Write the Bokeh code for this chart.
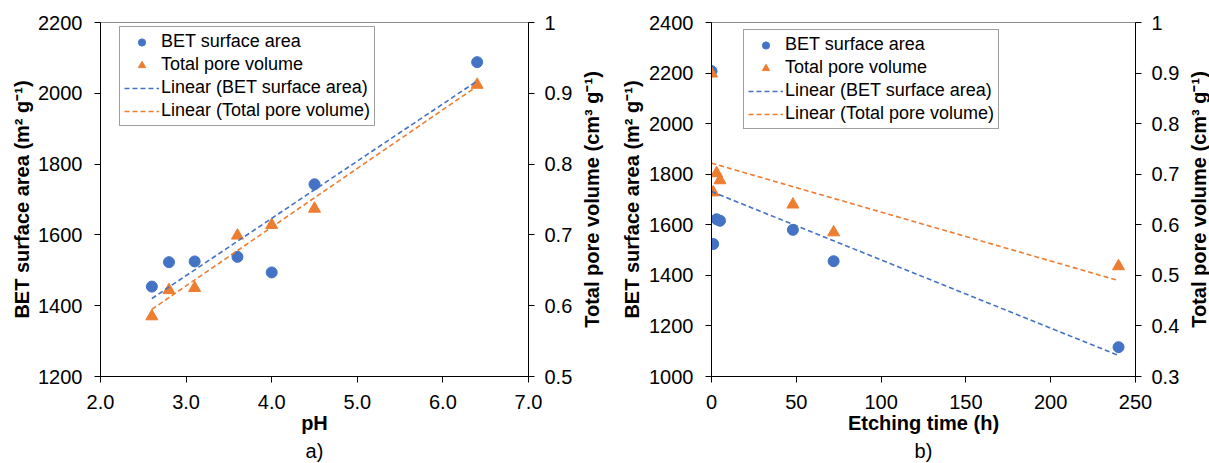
from bokeh.plotting import figure
from bokeh.models import (Range1d, LinearAxis, FixedTicker, PrintfTickFormatter,
                          CustomJSTickFormatter, Legend, LegendItem, Title)
from bokeh.layouts import row
from bokeh.embed import file_html
from bokeh.resources import INLINE
import numpy as np

# ---- data: panel a) ----
ph = [2.6, 2.8, 3.1, 3.6, 4.0, 4.5, 6.4]
bet_ph = [1454, 1523, 1525, 1538, 1494, 1743, 2088]
tpv_ph = [0.585, 0.622, 0.625, 0.699, 0.714, 0.737, 0.912]

# ---- data: panel b) ----
etch_t = [0, 1, 3, 5, 48, 72, 240]
bet_t = [2208, 1524, 1622, 1616, 1580, 1456, 1116]
tpv_t = [0.899, 0.664, 0.702, 0.688, 0.640, 0.585, 0.518]

# ---- ticks ----
ph_ticks = [2.0, 3.0, 4.0, 5.0, 6.0, 7.0]
t_ticks = [0, 50, 100, 150, 200, 250]
bet_ticks_a = [1200, 1400, 1600, 1800, 2000, 2200]
tpv_ticks_a = [0.5, 0.6, 0.7, 0.8, 0.9, 1.0]
bet_ticks_b = [1000, 1200, 1400, 1600, 1800, 2000, 2200, 2400]
tpv_ticks_b = [0.3, 0.4, 0.5, 0.6, 0.7, 0.8, 0.9, 1.0]

labels = ["BET surface area", "Total pore volume",
          "Linear (BET surface area)", "Linear (Total pore volume)"]
left_title = "BET surface area (m² g⁻¹)"
right_title = "Total pore volume (cm³ g⁻¹)"

BLUE = "#4472C4"
ORANGE = "#ED7D31"
FONT = "Liberation Sans"
H = 463
TOP, BOTTOM = 22, 87


def style_axis(ax, label, standoff=4, label_standoff=12):
    ax.axis_label = label
    ax.axis_label_text_font = FONT
    ax.axis_label_text_font_size = "20px"
    ax.axis_label_text_font_style = "bold"
    ax.axis_label_text_color = "#000000"
    ax.axis_label_standoff = standoff
    ax.major_label_text_font = FONT
    ax.major_label_text_font_size = "20px"
    ax.major_label_text_color = "#000000"
    ax.major_label_standoff = label_standoff
    ax.major_tick_out = 6
    ax.major_tick_in = 0
    ax.minor_tick_out = 0
    ax.minor_tick_in = 0
    ax.axis_line_color = "#000000"
    ax.major_tick_line_color = "#000000"


def panel(x, bet, tpv, xr, xticks, xfmt, yr, yticks, yr2, yticks2, xlabel,
          caption, width, mbl, mbr, ylab_standoff, leg_loc):
    p = figure(width=width, height=H, output_backend="svg", toolbar_location=None,
               x_range=Range1d(*xr), y_range=Range1d(*yr),
               min_border_left=mbl, min_border_right=mbr,
               min_border_top=TOP, min_border_bottom=BOTTOM)
    p.extra_y_ranges = {"tpv": Range1d(*yr2)}
    p.grid.visible = False
    p.outline_line_color = "#8c8c8c"
    p.outline_line_width = 1
    p.background_fill_color = "white"
    p.border_fill_color = "white"

    # axes
    p.xaxis.ticker = FixedTicker(ticks=xticks)
    p.xaxis.formatter = xfmt
    style_axis(p.xaxis[0], xlabel, standoff=0, label_standoff=12)
    p.yaxis.ticker = FixedTicker(ticks=yticks)
    style_axis(p.yaxis[0], left_title, standoff=ylab_standoff, label_standoff=12)
    ax2 = LinearAxis(y_range_name="tpv", ticker=FixedTicker(ticks=yticks2),
                     formatter=CustomJSTickFormatter(code="return String(Math.round(tick*10)/10);"))
    style_axis(ax2, None, standoff=8, label_standoff=10)
    p.add_layout(ax2, "right")

    # points
    r1 = p.scatter(x, bet, marker="circle", size=11, color=BLUE)
    r2 = p.scatter(x, tpv, marker="triangle", size=12, color=ORANGE, y_range_name="tpv")

    # linear trendlines (least squares fit of the data)
    xs = np.array([min(x), max(x)], dtype=float)
    k1, b1 = np.polyfit(x, bet, 1)
    k2, b2 = np.polyfit(x, tpv, 1)
    r3 = p.line(xs, k1 * xs + b1, line_color=BLUE, line_width=1.6, line_dash="5 3")
    r4 = p.line(xs, k2 * xs + b2, line_color=ORANGE, line_width=1.6, line_dash="5 3",
                y_range_name="tpv")

    leg = Legend(items=[LegendItem(label=labels[0], renderers=[r1]),
                        LegendItem(label=labels[1], renderers=[r2]),
                        LegendItem(label=labels[2], renderers=[r3]),
                        LegendItem(label=labels[3], renderers=[r4])],
                 location=leg_loc)
    leg.label_text_font = FONT
    leg.label_text_font_size = "18px"
    leg.label_text_color = "#000000"
    leg.glyph_width = 35
    leg.glyph_height = 18
    leg.label_height = 18
    leg.label_standoff = 2
    leg.spacing = 2
    leg.padding = 4
    leg.margin = 0
    leg.border_line_color = "#404040"
    leg.border_line_width = 1
    leg.background_fill_alpha = 1.0
    p.add_layout(leg, "center")

    cap = Title(text=caption, align="center", text_font=FONT, text_font_size="20px",
                text_font_style="normal", text_color="#000000", standoff=2)
    p.add_layout(cap, "below")
    return p


def side_title(width, mbl):
    """Narrow strip carrying a right-hand axis title that reads bottom-to-top."""
    s = figure(width=width, height=H, output_backend="svg", toolbar_location=None,
               x_range=Range1d(0, 1), y_range=Range1d(0, 1),
               x_axis_location=None, y_axis_location=None,
               min_border_left=mbl, min_border_right=0,
               min_border_top=TOP, min_border_bottom=BOTTOM)
    s.grid.visible = False
    s.outline_line_color = None
    s.background_fill_color = "white"
    s.border_fill_color = "white"
    s.add_layout(Title(text=right_title, align="center", vertical_align="bottom",
                       text_font=FONT, text_font_size="20px", text_font_style="bold",
                       text_color="#000000", standoff=0), "left")
    return s


pa = panel(ph, bet_ph, tpv_ph, (2.0, 7.0), ph_ticks, PrintfTickFormatter(format="%.1f"),
           (1200, 2200), bet_ticks_a, (0.5, 1.0), tpv_ticks_a, "pH", "a)",
           578, 100, 50, 2, (19, 250))
sa = side_title(40, 24)
pb = panel(etch_t, bet_t, tpv_t, (0, 250), t_ticks, PrintfTickFormatter(format="%d"),
           (1000, 2400), bet_ticks_b, (0.3, 1.0), tpv_ticks_b, "Etching time (h)", "b)",
           567, 90, 50, 3, (32, 247))
sb = side_title(24, 23)

layout = row(pa, sa, pb, sb)
open("out.html", "w").write(file_html(layout, INLINE))
